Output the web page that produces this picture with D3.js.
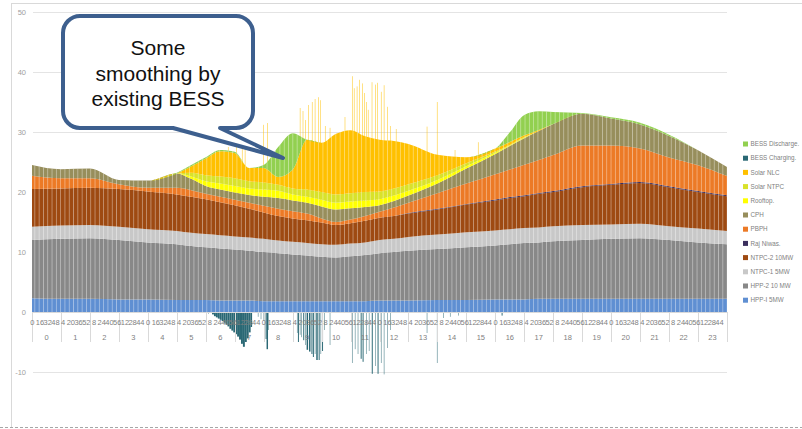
<!DOCTYPE html>
<html>
<head>
<meta charset="utf-8">
<script src="https://cdn.jsdelivr.net/npm/d3@7"></script>
<style>
  body { margin: 0; background: #fff; }
  svg { display: block; font-family: "Liberation Sans", Arial, sans-serif; }
</style>
</head>
<body>
<svg id="chart" width="802" height="429"></svg>
<script>
//time grid (hours of the day) where each generation source was read
const hours = [0,1,2,3,4,5,5.5,6,6.5,7,7.5,8,8.5,9,9.5,10,10.5,11,11.5,12,12.5,13,14,15,16,16.5,17,17.5,18,19,20,21,22,23,24];

//MW per source, stacked bottom to top
const hppI = [2.3,2.2,2.2,2.1,2.1,2.0,2.0,2.0,1.9,1.9,1.9,1.8,1.8,1.8,1.8,1.8,1.8,1.8,1.8,1.9,1.9,1.9,2.0,2.0,2.1,2.1,2.1,2.2,2.2,2.2,2.2,2.2,2.2,2.2,2.2];
const hpp2 = [9.7,10.0,10.1,9.9,9.5,9.3,9.0,8.8,8.7,8.5,8.3,8.2,8.0,7.8,7.6,7.4,7.3,7.5,7.7,7.9,8.1,8.3,8.5,8.8,9.0,9.2,9.4,9.4,9.6,9.8,10.0,10.1,9.8,9.4,9.1];
const ntpc1 = [2.2,2.2,2.2,2.2,2.2,2.2,2.2,2.2,2.2,2.2,2.2,2.2,2.1,2.1,2.1,2.1,2.1,2.1,2.1,2.2,2.2,2.3,2.4,2.5,2.5,2.5,2.5,2.5,2.5,2.5,2.4,2.4,2.3,2.3,2.2];
const ntpc2 = [6.3,6.2,6.2,6.3,6.3,6.1,6.0,5.8,5.5,5.2,4.8,4.4,4.1,3.9,3.8,3.6,3.3,3.4,3.6,3.7,3.8,3.9,4.2,4.6,5.0,5.2,5.3,5.6,5.7,6.3,6.6,6.8,6.5,6.1,5.8];
const rajNiwas = [0,0,0,0,0,0,0,0,0,0,0,0,0,0,0,0,0,0,0,0,0,0.1,0.1,0.1,0.15,0.15,0.15,0.15,0.15,0.15,0.15,0.15,0.15,0.15,0.15];
const pbph = [2.2,1.7,1.6,0.8,0.6,1.1,1.1,0.9,0.9,0.9,1.0,1.1,1.2,1.2,1.1,0.7,0.5,0.6,0.8,1.0,1.4,1.7,2.6,3.4,4.2,4.6,5.1,5.5,6.0,6.8,6.4,5.6,4.8,4.3,3.2];
const cph = [1.8,1.5,1.6,0.7,1.2,2.4,1.9,1.3,1.2,1.2,1.3,1.5,1.8,1.8,1.8,2.0,2.1,1.9,1.5,1.1,1.1,1.2,1.6,2.5,3.4,3.9,4.4,4.8,5.2,5.3,4.5,4.0,3.6,2.5,1.5];
const rooftop = [0,0,0,0,0,0,0.4,0.8,1.0,1.1,1.1,1.2,1.2,1.0,1.0,1.1,1.1,1.1,1.1,1.0,0.9,0.8,0.6,0.4,0.2,0.1,0.1,0,0,0,0,0,0,0,0];
const solarNtpc = [0,0,0,0,0,0,0.6,1.0,1.2,1.3,1.2,1.2,1.0,1.0,1.2,1.3,1.4,1.4,1.4,1.3,1.2,1.1,0.8,0.5,0.2,0.1,0.1,0,0,0,0,0,0,0,0];
const solarNlc = [0,0,0,0,0,0,1.1,2.8,4.2,4.2,2.2,2.4,1.3,3.1,8.3,8.2,10.1,10.5,9.3,8.6,7.9,6.7,3.4,1.0,0.5,0.5,0.3,0.2,0,0,0,0,0,0,0];
const bessDischarge = [0,0,0,0,0,0.1,0.2,0.2,0.2,0.2,0,0.5,5.0,6.1,0,0,0,0,0,0,0,0,0,0,0,1.6,3.4,3.1,2.0,0.1,0.2,0.3,0.2,0,0];

//single-minute peaks of Solar NLC: [minute of day, top of stack MW]
const solarNlcPeaks = [[406,27.5],[423,28.0],[435,27.8],[441,28.7],[479,31.2],[487,31.5],[555,34.0],[561,33.5],[566,32.0],[572,34.5],[580,35.0],[586,35.5],[593,35.8],[597,35.3],[607,31.0],[617,30.7],[648,32.5],[663,39.3],[667,37.3],[673,37.6],[678,38.7],[684,38.1],[688,36.5],[692,35.0],[696,33.7],[704,38.3],[711,37.9],[715,38.2],[723,36.7],[729,37.8],[736,34.2],[742,31.0],[754,30.5],[818,30.9],[839,35.0],[876,27.0],[924,28.3]];

//BESS charging (negative MW): [first minute, last minute, MW]
const bessCharging = [[365,365,-0.3],[373,376,-0.4],[377,380,-0.7],[381,384,-0.9],[385,388,-1.1],[389,392,-1.3],[393,396,-1.5],[397,400,-1.8],[401,404,-2.1],[405,408,-2.4],[409,412,-2.8],[413,416,-3.1],[417,420,-3.4],[421,424,-3.7],[425,428,-4.1],[429,432,-4.6],[433,436,-5.3],[437,440,-5.8],[441,444,-5.0],[445,448,-4.4],[449,452,-3.4],[453,455,-2.5],
  [468,468,-0.8],[474,474,-1.2],[480,481,-1.5],[484,485,-4.5],[486,488,-6.2],[489,489,-3.0],
  [549,549,-3.5],[551,552,-5.0],[555,555,-3.8],[558,558,-4.2],[562,563,-4.7],[566,566,-5.5],[569,571,-6.3],[574,576,-6.6],[579,580,-7.0],[582,583,-7.5],[586,586,-7.0],[589,591,-8.0],[594,595,-8.0],[598,598,-7.0],[601,602,-6.5],[605,605,-3.0],[617,617,-5.5],
  [663,663,-8.5],[669,669,-6.2],[675,675,-7.0],[681,682,-7.8],[685,686,-8.3],[692,692,-7.0],[698,698,-6.5],[704,705,-10.3],[711,711,-9.0],[716,717,-10.3],[723,723,-8.5],[729,729,-10.4],[736,736,-6.0],[742,742,-3.0],
  [818,818,-3.5],[839,839,-8.5],[852,852,-1.0],[866,866,-0.8],[883,883,-0.6],[973,974,-0.6]];

//axis labels
const yTicks = [-10,0,10,20,30,40,50];
const hourLabels = ["0","1","2","3","4","5","6","7","8","9","10","11","12","13","14","15","16","17","18","19","20","21","22","23"];
const minuteLabels = ["0","16","32","48","4","20","36","52","8","24","40","56","12","28","44"];
const calloutLines = ["Some","smoothing by","existing BESS"];

//stack order, bottom to top
const stackSeries = [
  {key: "hppI", name: "HPP-I 5MW", color: "#5f8fd2", values: hppI},
  {key: "hpp2", name: "HPP-2 10 MW", color: "#888888", values: hpp2},
  {key: "ntpc1", name: "NTPC-1 5MW", color: "#c8c8c8", values: ntpc1},
  {key: "ntpc2", name: "NTPC-2 10MW", color: "#9e4a12", values: ntpc2},
  {key: "raj", name: "Raj Niwas.", color: "#3b2f5e", values: rajNiwas},
  {key: "pbph", name: "PBPH", color: "#ec7a26", values: pbph},
  {key: "cph", name: "CPH", color: "#978e5c", values: cph},
  {key: "rooftop", name: "Rooftop.", color: "#ffff00", values: rooftop},
  {key: "sntpc", name: "Solar NTPC", color: "#d9e22a", values: solarNtpc},
  {key: "snlc", name: "Solar NLC", color: "#ffc000", values: solarNlc},
  {key: "bdis", name: "BESS Discharge.", color: "#92d050", values: bessDischarge}
];
const chargeColor = "#2a6874";

//legend, top to bottom
const legendItems = [
  {name: "BESS Discharge.", color: "#92d050"},
  {name: "BESS Charging.", color: chargeColor},
  {name: "Solar NLC", color: "#ffc000"},
  {name: "Solar NTPC", color: "#d9e22a"},
  {name: "Rooftop.", color: "#ffff00"},
  {name: "CPH", color: "#978e5c"},
  {name: "PBPH", color: "#ec7a26"},
  {name: "Raj Niwas.", color: "#3b2f5e"},
  {name: "NTPC-2 10MW", color: "#9e4a12"},
  {name: "NTPC-1 5MW", color: "#c8c8c8"},
  {name: "HPP-2 10 MW", color: "#888888"},
  {name: "HPP-I 5MW", color: "#5f8fd2"}
];

const svg = d3.select("#chart");

const x = d3.scaleLinear().domain([0, 1440]).range([32, 727]);
const y = d3.scaleLinear().domain([-10, 50]).range([372, 12]);

//frame of the chart area
svg.append("line").attr("x1", 11.5).attr("x2", 11.5).attr("y1", 3).attr("y2", 427)
      .style("stroke", "#d9d9d9");
svg.append("line").attr("x1", 11).attr("x2", 802).attr("y1", 3.5).attr("y2", 3.5)
      .style("stroke", "#d9d9d9");
svg.append("line").attr("x1", 0).attr("x2", 802).attr("y1", 427.5).attr("y2", 427.5)
      .style("stroke", "#a6a6a6").style("stroke-dasharray", "3,2");

//stripes to mimic the 1-minute columns
const defs = svg.append("defs");
defs.append("pattern")
      .attr("id", "stripes")
      .attr("patternUnits", "userSpaceOnUse")
      .attr("width", 4.3).attr("height", 10)
      .append("rect")
      .attr("width", 0.8).attr("height", 10)
      .style("fill", "#fff").style("opacity", 0.45);

//gridlines
svg.append("g").selectAll("line")
      .data(yTicks.filter(d => d !== 0))
      .enter()
      .append("line")
      .attr("x1", 33).attr("x2", 727)
      .attr("y1", d => Math.round(y(d)) + 0.5).attr("y2", d => Math.round(y(d)) + 0.5)
      .style("stroke", "#e4e4e4");

svg.append("g").selectAll("text")
      .data(yTicks)
      .enter()
      .append("text")
      .attr("x", 26).attr("y", d => y(d))
      .attr("dy", "0.35em")
      .attr("text-anchor", "end")
      .style("font-size", "7.5px")
      .style("fill", "#a0a0a0")
      .text(d => d);

//solar peaks sit behind the stacked areas
svg.append("g").selectAll("rect")
      .data(solarNlcPeaks)
      .enter()
      .append("rect")
      .attr("x", d => x(d[0]))
      .attr("width", x(1) - x(0))
      .attr("y", d => y(d[1]))
      .attr("height", d => y(18) - y(d[1]))
      .style("fill", "#ffc000");

//stacked areas
const rows = hours.map((t, i) => {
      const row = {t: t};
      stackSeries.forEach(s => row[s.key] = s.values[i]);
      return row;
});
const stacked = d3.stack().keys(stackSeries.map(s => s.key))(rows);

const area = d3.area()
      .x(d => x(d.data.t * 60))
      .y0(d => y(d[0]))
      .y1(d => y(d[1]))
      .curve(d3.curveMonotoneX);

const layers = svg.append("g");
layers.selectAll("path.fill")
      .data(stacked)
      .enter()
      .append("path")
      .attr("class", "fill")
      .attr("d", area)
      .style("fill", (d, i) => stackSeries[i].color);
layers.selectAll("path.stripe")
      .data(stacked)
      .enter()
      .append("path")
      .attr("class", "stripe")
      .attr("d", area)
      .style("fill", "url(#stripes)");

//BESS charging columns below zero
svg.append("g").selectAll("rect")
      .data(bessCharging)
      .enter()
      .append("rect")
      .attr("x", d => x(d[0]))
      .attr("width", d => x(d[1] + 1) - x(d[0]))
      .attr("y", y(0))
      .attr("height", d => y(d[2]) - y(0))
      .style("fill", chargeColor);

//category axis: minutes and hours
const axis = svg.append("g");
axis.append("line")
      .attr("x1", x(0)).attr("x2", x(1440))
      .attr("y1", Math.round(y(0)) + 0.5).attr("y2", Math.round(y(0)) + 0.5)
      .style("stroke", "#d9d9d9");
axis.selectAll("line.sep")
      .data(d3.range(hourLabels.length + 1))
      .enter()
      .append("line")
      .attr("class", "sep")
      .attr("x1", d => Math.round(x(d * 60)) + 0.5).attr("x2", d => Math.round(x(d * 60)) + 0.5)
      .attr("y1", y(0)).attr("y2", y(0) + 30)
      .style("stroke", "#d9d9d9");
axis.selectAll("text.min")
      .data(d3.range(0, 1440, 16))
      .enter()
      .append("text")
      .attr("class", "min")
      .attr("x", d => x(d + 0.5))
      .attr("y", 325)
      .attr("text-anchor", "middle")
      .style("font-size", "7.5px")
      .style("fill", "#7f7f7f")
      .text((d, i) => minuteLabels[i % minuteLabels.length]);
axis.selectAll("text.hour")
      .data(hourLabels)
      .enter()
      .append("text")
      .attr("class", "hour")
      .attr("x", (d, i) => x(i * 60 + 30))
      .attr("y", 340)
      .attr("text-anchor", "middle")
      .style("font-size", "7.5px")
      .style("fill", "#7f7f7f")
      .text(d => d);

//legend
const legend = svg.append("g").selectAll("g")
      .data(legendItems)
      .enter()
      .append("g")
      .attr("transform", (d, i) => `translate(743, ${144 + i * 14.2})`);
legend.append("rect")
      .attr("x", 0).attr("y", -2.5)
      .attr("width", 5).attr("height", 5)
      .style("fill", d => d.color);
legend.append("text")
      .attr("x", 7.5).attr("dy", "0.35em")
      .style("font-size", "6.3px")
      .style("fill", "#7f7f7f")
      .text(d => d.name);

//callout
const x0 = 63, y0 = 16, x1 = 253, y1 = 128, r = 17;
const callout = `M${x0 + r},${y0} H${x1 - r} A${r},${r} 0 0 1 ${x1},${y0 + r} V${y1 - r} A${r},${r} 0 0 1 ${x1 - r},${y1}
  H220 L283,158 L173,${y1} H${x0 + r} A${r},${r} 0 0 1 ${x0},${y1 - r} V${y0 + r} A${r},${r} 0 0 1 ${x0 + r},${y0} Z`;
svg.append("path")
      .attr("d", callout)
      .style("fill", "#fff")
      .style("stroke", "#3d5f8e")
      .style("stroke-width", 4)
      .style("stroke-linejoin", "round");
svg.append("g").selectAll("text")
      .data(calloutLines)
      .enter()
      .append("text")
      .attr("x", 158)
      .attr("y", (d, i) => 55 + i * 25.5)
      .attr("text-anchor", "middle")
      .style("font-size", "21px")
      .style("fill", "#111")
      .text(d => d);
</script>
</body>
</html>
